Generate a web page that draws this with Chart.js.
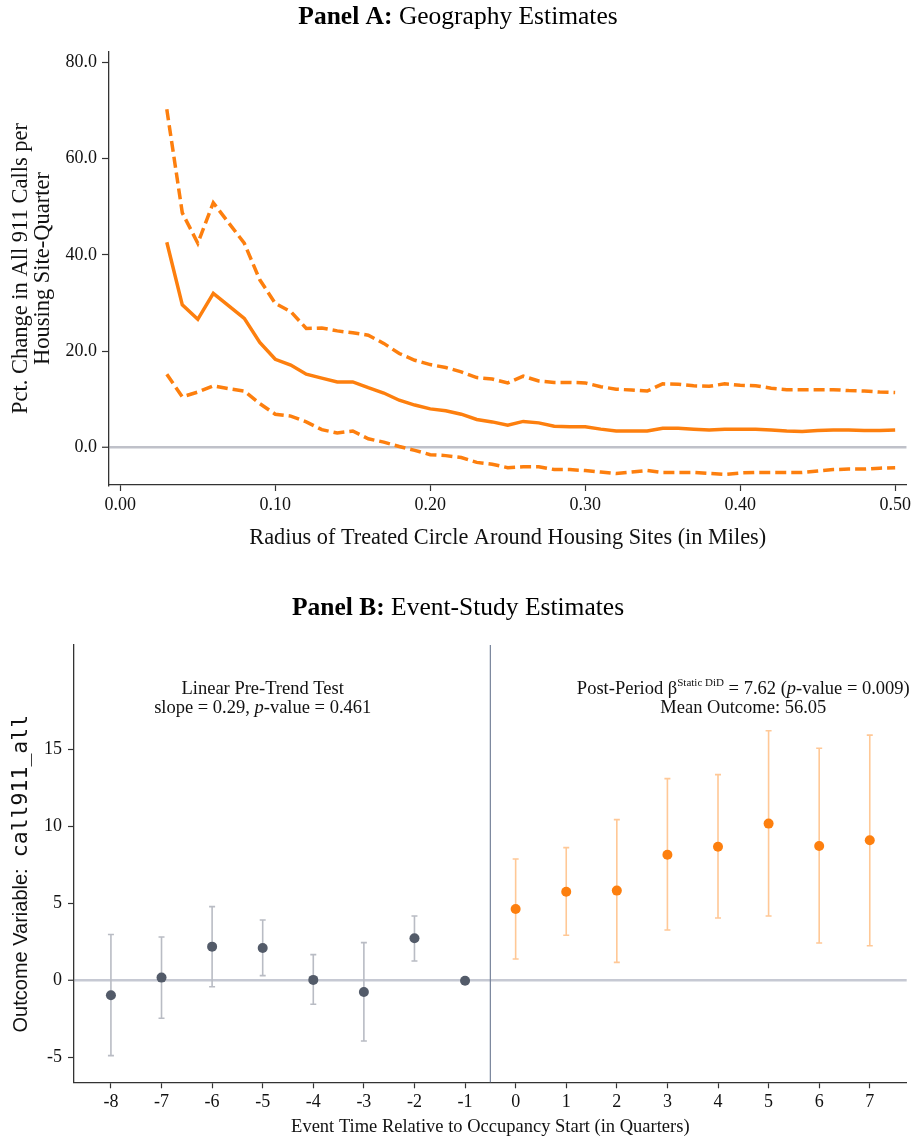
<!DOCTYPE html>
<html>
<head>
<meta charset="utf-8">
<script src="https://cdn.jsdelivr.net/npm/chart.js@4.4.1/dist/chart.umd.min.js"></script>
<style>
  html, body { margin: 0; padding: 0; background: #fff; }
  #wrap { position: relative; width: 914px; height: 1142px; overflow: hidden; }
  canvas { position: absolute; left: 0; display: block; }
  #geo { top: 0; }
  #event { top: 570px; }
</style>
</head>
<body>
<div id="wrap">
  <canvas id="geo" width="914" height="560"></canvas>
  <canvas id="event" width="914" height="572"></canvas>
</div>
<script>
// ---------- Panel A: estimates by radius of the treated circle ----------
const radius = [0.03, 0.04, 0.05, 0.06, 0.07, 0.08, 0.09, 0.10, 0.11, 0.12, 0.13, 0.14, 0.15, 0.16,
  0.17, 0.18, 0.19, 0.20, 0.21, 0.22, 0.23, 0.24, 0.25, 0.26, 0.27, 0.28, 0.29, 0.30, 0.31, 0.32,
  0.33, 0.34, 0.35, 0.36, 0.37, 0.38, 0.39, 0.40, 0.41, 0.42, 0.43, 0.44, 0.45, 0.46, 0.47, 0.48,
  0.49, 0.50];
const pctChange = [42.6, 29.6, 26.6, 32.0, 29.4, 26.8, 21.8, 18.3, 17.1, 15.2, 14.4, 13.6, 13.6, 12.4,
  11.3, 9.8, 8.8, 8.0, 7.6, 6.9, 5.8, 5.3, 4.6, 5.4, 5.1, 4.4, 4.3, 4.3, 3.8, 3.4,
  3.4, 3.4, 4.0, 4.0, 3.8, 3.6, 3.8, 3.8, 3.8, 3.6, 3.4, 3.3, 3.5, 3.6, 3.6, 3.5,
  3.5, 3.6];
const pctUpper = [70.2, 48.7, 42.4, 50.8, 46.6, 42.4, 34.8, 29.9, 28.2, 24.7, 24.8, 24.2, 23.8, 23.3,
  21.6, 19.5, 18.1, 17.2, 16.6, 15.7, 14.5, 14.2, 13.4, 14.8, 13.8, 13.5, 13.5, 13.4, 12.6, 12.1,
  11.9, 11.7, 13.2, 13.1, 12.8, 12.7, 13.2, 12.9, 12.8, 12.3, 12.0, 12.0, 12.0, 12.0, 11.8, 11.7,
  11.5, 11.4];
const pctLower = [15.2, 10.5, 11.5, 12.8, 12.2, 11.7, 9.1, 6.9, 6.5, 5.3, 3.7, 3.0, 3.4, 1.8,
  1.1, 0.2, -0.6, -1.5, -1.7, -2.1, -3.1, -3.5, -4.2, -4.0, -4.0, -4.6, -4.6, -4.8, -5.1, -5.4,
  -5.1, -4.8, -5.2, -5.2, -5.2, -5.4, -5.6, -5.3, -5.2, -5.2, -5.2, -5.2, -4.9, -4.6, -4.5, -4.5,
  -4.3, -4.2];
const radiusTicks = [0, 0.1, 0.2, 0.3, 0.4, 0.5];
const pctTicks = [0, 20, 40, 60, 80];

// ---------- Panel B: event-study coefficients ----------
const eventTime = [-8, -7, -6, -5, -4, -3, -2, -1, 0, 1, 2, 3, 4, 5, 6, 7];
const coef   = [-0.95, 0.20, 2.21, 2.12, 0.05, -0.73, 2.75, 0, 4.66, 5.78, 5.85, 8.18, 8.70, 10.20, 8.75, 9.12];
const coefLo = [-4.87, -2.44, -0.39, 0.33, -1.53, -3.92, 1.28, null, 1.41, 2.95, 1.19, 3.29, 4.07, 4.20, 2.45, 2.27];
const coefHi = [3.00, 2.84, 4.81, 3.94, 1.69, 2.47, 4.20, null, 7.90, 8.64, 10.46, 13.12, 13.38, 16.23, 15.09, 15.95];
const eventTicks = [-8, -7, -6, -5, -4, -3, -2, -1, 0, 1, 2, 3, 4, 5, 6, 7];
const outcomeTicks = [-5, 0, 5, 10, 15];
const treatmentStart = -0.5;

const SERIF = "'Liberation Serif', 'Times New Roman', serif";
const SANS = "'Liberation Sans', Arial, sans-serif";
const MONO = "'DejaVu Sans Mono', 'Liberation Mono', monospace";
const ORANGE = '#fd7f0e';
const AXIS = '#333333';

// draw a run of differently styled text pieces, centred on cx
function drawRich(ctx, segs, cx, baseline) {
  let total = 0;
  segs.forEach(s => { ctx.font = s.font; s.w = ctx.measureText(s.text).width; total += s.w; });
  let x = cx - total / 2;
  ctx.textAlign = 'left';
  ctx.textBaseline = 'alphabetic';
  segs.forEach(s => {
    ctx.font = s.font;
    ctx.fillText(s.text, x, baseline + (s.rise || 0));
    x += s.w;
  });
}

const panelTitle = (bold, rest, baseline) => ({
  id: 'panelTitle',
  afterDraw(chart) {
    const ctx = chart.ctx;
    ctx.save();
    ctx.fillStyle = '#000';
    drawRich(ctx, [
      { text: bold, font: `bold 25.5px ${SERIF}` },
      { text: rest, font: `25.5px ${SERIF}` }
    ], chart.width / 2 + 1, baseline);
    ctx.restore();
  }
});

const zeroGrid = (col) => ({
  drawOnChartArea: true,
  color: c => (c.tick && c.tick.value === 0) ? col : 'rgba(0,0,0,0)',
  lineWidth: c => (c.tick && c.tick.value === 0) ? 2.5 : 1,
  tickColor: AXIS,
  tickWidth: 1.2,
  tickLength: 7
});

// ---------- Panel A chart ----------
const toXY = arr => radius.map((r, i) => ({ x: r, y: arr[i] }));

new Chart(document.getElementById('geo'), {
  type: 'line',
  data: {
    datasets: [
      { data: toXY(pctUpper), borderColor: ORANGE, borderWidth: 3.5, borderDash: [11, 5], pointRadius: 0, tension: 0 },
      { data: toXY(pctChange), borderColor: ORANGE, borderWidth: 3.5, pointRadius: 0, tension: 0 },
      { data: toXY(pctLower), borderColor: ORANGE, borderWidth: 3.5, borderDash: [11, 5], pointRadius: 0, tension: 0 }
    ]
  },
  options: {
    responsive: false,
    animation: false,
    devicePixelRatio: 1,
    layout: { padding: { top: 52, right: 7, left: 0, bottom: 0 } },
    plugins: { legend: { display: false }, tooltip: { enabled: false } },
    scales: {
      x: {
        type: 'linear',
        min: -0.0073,
        max: 0.5073,
        afterBuildTicks: s => { s.ticks = radiusTicks.map(v => ({ value: v })); },
        afterFit: s => { s.height = 75; },
        ticks: { callback: v => Number(v).toFixed(2), color: '#111', font: { family: SERIF, size: 18 }, padding: 3, maxRotation: 0 },
        grid: { drawOnChartArea: false, tickLength: 6, tickColor: AXIS, tickWidth: 1.2 },
        border: { color: AXIS, width: 1.3 },
        title: {
          display: true,
          text: 'Radius of Treated Circle Around Housing Sites (in Miles)',
          color: '#111',
          font: { family: SERIF, size: 22.3, lineHeight: 1.1 },
          padding: { top: 0, bottom: 10 }
        }
      },
      y: {
        min: -7.8,
        max: 82.1,
        afterBuildTicks: s => { s.ticks = pctTicks.map(v => ({ value: v })); },
        afterFit: s => { s.width = 109; },
        ticks: { callback: v => Number(v).toFixed(1), color: '#111', font: { family: SERIF, size: 18 }, padding: 5 },
        grid: zeroGrid('#bfc1c9'),
        border: { color: AXIS, width: 1.3 },
        title: {
          display: true,
          text: ['Pct. Change in All 911 Calls per', 'Housing Site-Quarter'],
          color: '#111',
          font: { family: SERIF, size: 22.5, lineHeight: 0.98 },
          padding: { top: 10, bottom: 0 }
        }
      }
    }
  },
  plugins: [panelTitle('Panel A:', ' Geography Estimates', 24)]
});

// ---------- Panel B chart ----------
const preIdx = eventTime.map((t, i) => i).filter(i => eventTime[i] < 0);
const postIdx = eventTime.map((t, i) => i).filter(i => eventTime[i] >= 0);
const pick = idx => idx.map(i => ({ x: eventTime[i], y: coef[i], lo: coefLo[i], hi: coefHi[i] }));

const errorBars = {
  id: 'errorBars',
  beforeDatasetsDraw(chart) {
    const { ctx, chartArea, scales: { x, y } } = chart;
    ctx.save();
    // vertical marker at the start of occupancy
    const vx = x.getPixelForValue(treatmentStart);
    ctx.strokeStyle = '#76839a';
    ctx.lineWidth = 1.2;
    ctx.beginPath();
    ctx.moveTo(vx, chartArea.top);
    ctx.lineTo(vx, chartArea.bottom);
    ctx.stroke();
    // confidence intervals with end caps
    chart.data.datasets.forEach(ds => {
      ctx.strokeStyle = ds.barColor;
      ctx.lineWidth = 1.6;
      ds.data.forEach(p => {
        if (p.lo == null || p.hi == null) return;
        const px = x.getPixelForValue(p.x);
        const yl = y.getPixelForValue(p.lo);
        const yh = y.getPixelForValue(p.hi);
        ctx.beginPath();
        ctx.moveTo(px, yl); ctx.lineTo(px, yh);
        ctx.moveTo(px - 3, yl); ctx.lineTo(px + 3, yl);
        ctx.moveTo(px - 3, yh); ctx.lineTo(px + 3, yh);
        ctx.stroke();
      });
    });
    ctx.restore();
  }
};

const eventNotes = {
  id: 'eventNotes',
  afterDraw(chart) {
    const { ctx, chartArea, scales: { x, y } } = chart;
    ctx.save();
    ctx.fillStyle = '#111';
    const f = `18.5px ${SERIF}`;
    const fi = `italic 18.5px ${SERIF}`;
    const b1 = y.getPixelForValue(19) + 6;
    const b2 = b1 + 19;
    const lx = x.getPixelForValue(-5);
    drawRich(ctx, [{ text: 'Linear Pre-Trend Test', font: f }], lx, b1);
    drawRich(ctx, [
      { text: 'slope = 0.29, ', font: f },
      { text: 'p', font: fi },
      { text: '-value = 0.461', font: f }
    ], lx, b2);
    const rx = x.getPixelForValue(4.5);
    drawRich(ctx, [
      { text: 'Post-Period \u03B2', font: f },
      { text: 'Static DiD', font: `11px ${SERIF}`, rise: -8 },
      { text: ' = 7.62 (', font: f },
      { text: 'p', font: fi },
      { text: '-value = 0.009)', font: f }
    ], rx, b1);
    drawRich(ctx, [{ text: 'Mean Outcome: 56.05', font: f }], rx, b2);

    // rotated y-axis label with a monospaced variable name
    ctx.translate(27, (chartArea.top + chartArea.bottom) / 2 + 10);
    ctx.rotate(-Math.PI / 2);
    drawRich(ctx, [
      { text: 'Outcome Variable:  ', font: `20px ${SANS}` },
      { text: 'call911_all', font: `21.5px ${MONO}` }
    ], 0, 0);
    ctx.restore();
  }
};

new Chart(document.getElementById('event'), {
  type: 'scatter',
  data: {
    datasets: [
      { data: pick(preIdx), backgroundColor: '#535b69', borderWidth: 0, pointRadius: 5, barColor: '#b9bcc4' },
      { data: pick(postIdx), backgroundColor: ORANGE, borderWidth: 0, pointRadius: 5, barColor: '#ffc896' }
    ]
  },
  options: {
    responsive: false,
    animation: false,
    devicePixelRatio: 1,
    layout: { padding: { top: 75, right: 7.3, left: 0, bottom: 0 } },
    plugins: { legend: { display: false }, tooltip: { enabled: false } },
    scales: {
      x: {
        type: 'linear',
        min: -8.73,
        max: 7.73,
        afterBuildTicks: s => { s.ticks = eventTicks.map(v => ({ value: v })); },
        afterFit: s => { s.height = 59.7; },
        ticks: { callback: v => String(v), color: '#111', font: { family: SERIF, size: 18 }, padding: 3, maxRotation: 0 },
        grid: { drawOnChartArea: false, tickLength: 6, tickColor: AXIS, tickWidth: 1.2 },
        border: { color: AXIS, width: 1.3 },
        title: {
          display: true,
          text: 'Event Time Relative to Occupancy Start (in Quarters)',
          color: '#111',
          font: { family: SERIF, size: 18.5, lineHeight: 1.1 },
          padding: { top: 0, bottom: 5 }
        }
      },
      y: {
        min: -6.6,
        max: 21.8,
        afterBuildTicks: s => { s.ticks = outcomeTicks.map(v => ({ value: v })); },
        afterFit: s => { s.width = 74; },
        ticks: { callback: v => String(v), color: '#111', font: { family: SERIF, size: 18 }, padding: 6 },
        grid: Object.assign(zeroGrid('#c6c9d3'), { tickLength: 6 }),
        border: { color: AXIS, width: 1.3 }
      }
    }
  },
  plugins: [errorBars, eventNotes, panelTitle('Panel B:', ' Event-Study Estimates', 45)]
});
</script>
</body>
</html>
